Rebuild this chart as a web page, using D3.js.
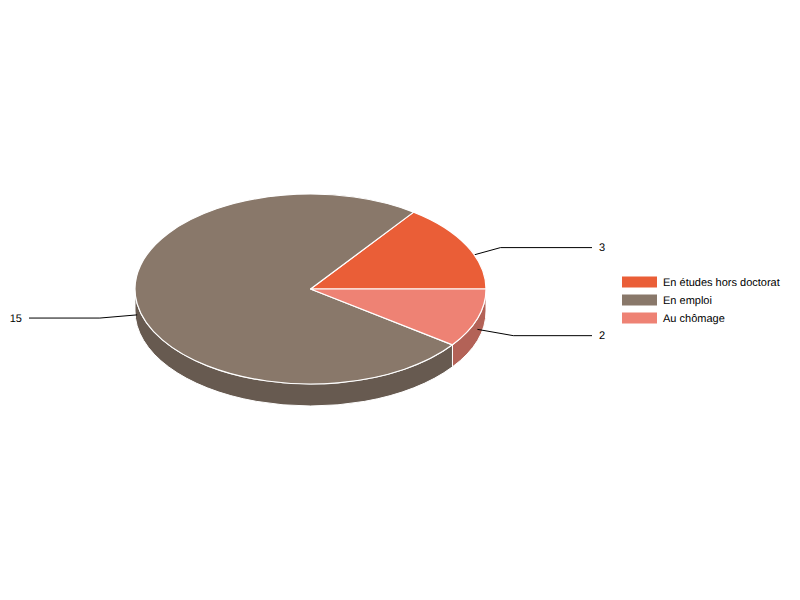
<!DOCTYPE html>
<html>
<head>
<meta charset="utf-8">
<script src="https://cdn.jsdelivr.net/npm/d3@7/dist/d3.min.js"></script>
<style>
  html, body { margin: 0; padding: 0; background: #fff; }
  text { font-family: "Liberation Sans", Arial, sans-serif; font-size: 11px; fill: #000; text-rendering: geometricPrecision; }
</style>
</head>
<body>
<div id="chart"></div>
<script>
const categories = ["En études hors doctorat", "En emploi", "Au chômage"];
const values = [3, 15, 2];
const colors = ["#ea5e37", "#89786a", "#ee8274"];

const width = 800, height = 600;
const cx = 310.5, cy = 289, rx = 175.5, ry = 95, depth = 22;

const svg = d3.select("#chart").append("svg")
  .attr("width", width)
  .attr("height", height)
  .style("display", "block");

// slices run counter-clockwise from 3 o'clock, angles here are measured from east
const pie = d3.pie().sort(null).startAngle(0).endAngle(-2 * Math.PI);
const slices = pie(values).map(function(d, i) {
  return { start: d.endAngle, end: d.startAngle, value: d.value, color: colors[i], name: categories[i] };
});

function px(a, k) { return cx + rx * (k || 1) * Math.cos(a); }
function py(a, k) { return cy + ry * (k || 1) * Math.sin(a); }

function topPath(s) {
  const large = s.end - s.start > Math.PI ? 1 : 0;
  return `M${cx},${cy}L${px(s.start)},${py(s.start)}A${rx},${ry} 0 ${large} 1 ${px(s.end)},${py(s.end)}Z`;
}

// front wall only exists between 0 and PI (mod 2PI)
function wallPath(s) {
  const two = 2 * Math.PI;
  let a = s.start, b = s.end;
  a = a + two * Math.ceil(-a / two);
  b = a + (s.end - s.start);
  const from = Math.max(a, 0), to = Math.min(b, Math.PI);
  if (to <= from) return null;
  return `M${px(from)},${py(from)}A${rx},${ry} 0 0 1 ${px(to)},${py(to)}` +
    `L${px(to)},${py(to) + depth}A${rx},${ry} 0 0 0 ${px(from)},${py(from) + depth}Z`;
}

const walls = svg.append("g");
slices.forEach(function(s) {
  const d = wallPath(s);
  if (!d) return;
  walls.append("path")
    .attr("d", d)
    .attr("fill", d3.rgb(s.color).darker(0.8))
    .attr("stroke", "#fff")
    .attr("stroke-width", 1);
});

// leader lines sit over the walls but under the top face
const labelLeftX = 29, labelRightX = 592;
const leaders = svg.append("g");
slices.forEach(function(s) {
  const mid = (s.start + s.end) / 2;
  const right = Math.cos(mid) > 0;
  const x0 = px(mid), y0 = py(mid) + depth / 2;
  const x1 = px(mid, 1.215), y1 = py(mid, 1.215) + depth / 2;
  const x2 = right ? labelRightX : labelLeftX;
  leaders.append("path")
    .attr("d", d3.line()([[x0, y0], [x1, y1], [x2, y1]]))
    .attr("fill", "none")
    .attr("stroke", "#000")
    .attr("stroke-width", 1);
  svg.append("text")
    .attr("x", right ? x2 + 7 : x2 - 7)
    .attr("y", y1 + 3.5)
    .attr("text-anchor", right ? "start" : "end")
    .text(s.value);
});

svg.append("g").selectAll("path")
  .data(slices)
  .join("path")
  .attr("d", topPath)
  .attr("fill", d => d.color)
  .attr("stroke", "#fff")
  .attr("stroke-width", 1.2)
  .attr("stroke-linejoin", "round");

// legend
const legendY = d3.scalePoint().domain(categories).range([282, 318]);
const legend = svg.append("g");
categories.forEach(function(c, i) {
  legend.append("rect")
    .attr("x", 622)
    .attr("y", legendY(c) - 5.5)
    .attr("width", 35)
    .attr("height", 11)
    .attr("fill", colors[i]);
  legend.append("text")
    .attr("x", 663)
    .attr("y", legendY(c) + 4)
    .text(c);
});
</script>
</body>
</html>
